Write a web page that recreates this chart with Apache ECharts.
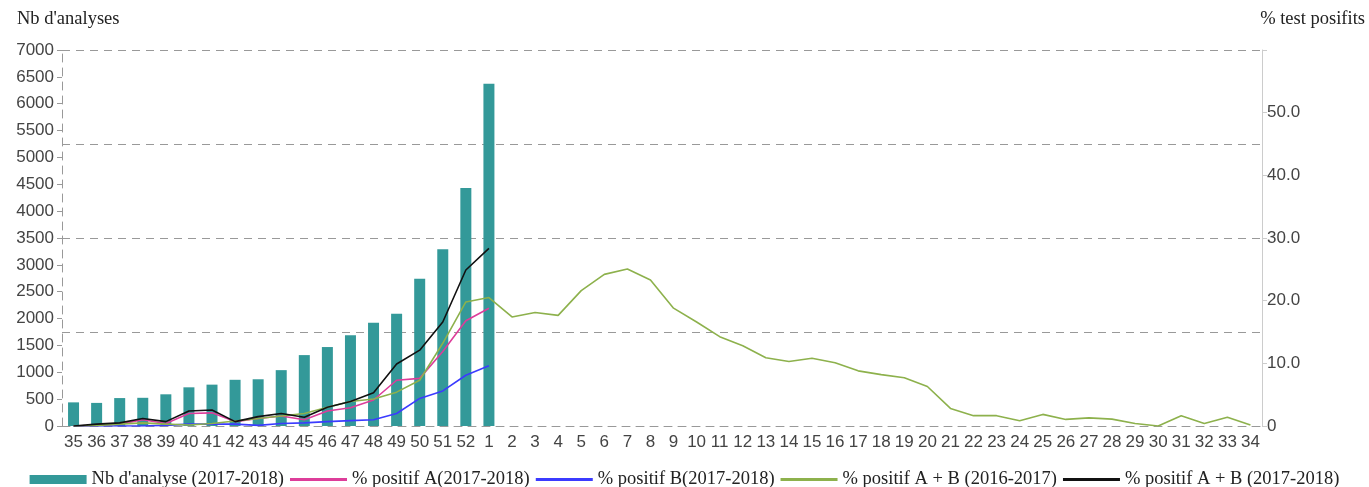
<!DOCTYPE html>
<html><head><meta charset="utf-8">
<script src="https://cdn.jsdelivr.net/npm/echarts@6/dist/echarts.min.js"></script>
<style>html,body{margin:0;padding:0;background:#fff}#c{width:1369px;height:487px}</style>
</head><body><div id="c"></div>
<script>
const weeks = ['35','36','37','38','39','40','41','42','43','44','45','46','47','48','49','50','51','52',
  '1','2','3','4','5','6','7','8','9','10','11','12','13','14','15','16','17','18','19','20','21','22','23','24','25','26','27','28','29','30','31','32','33','34'];
const nbAnalyses = [440,430,520,525,590,720,770,860,870,1040,1320,1470,1690,1920,2090,2740,3290,4430,6370];
const posA = [0,0.1,0.3,1.0,0.4,2.0,2.1,0.7,1.2,1.6,1.0,2.4,2.9,4.15,7.3,7.6,11.9,16.8,18.8];
const posB = [0,0,0,0,0.1,0.3,0.3,0.3,0.1,0.4,0.5,0.7,0.85,1.0,2.0,4.4,5.6,8.1,9.6];
const posAB1617 = [0,0.1,0.3,0.5,0.3,0.15,0.4,0.8,1.2,1.6,2.0,3.0,3.9,4.3,5.4,7.3,13.2,19.8,
  20.5,17.4,18.1,17.65,21.6,24.2,25.05,23.3,18.8,16.6,14.25,12.8,10.9,10.3,10.8,10.1,8.8,8.2,7.7,6.3,2.8,1.65,1.65,0.85,1.85,1.05,1.3,1.1,0.4,0,1.65,0.4,1.4,0.15];
const posAB1718 = [0,0.3,0.5,1.2,0.7,2.4,2.55,0.7,1.5,2.0,1.4,3.0,3.9,5.3,9.9,12.1,16.6,24.9,28.35];
const names = ["Nb d'analyse (2017-2018)", "% positif A(2017-2018)", "% positif B(2017-2018)", "% positif A + B (2016-2017)", "% positif A + B (2017-2018)"];
const lineColors = ['#dd3d9a', '#3b3bff', '#8db14c', '#111111'];

const chart = echarts.init(document.getElementById('c'));
const axisFont = {fontFamily: 'Liberation Sans, Arial, sans-serif', fontSize: 17, color: '#444'};
const lineIcon = 'path://M0,0 L57,0 L57,3 L0,3 Z';
const lineSeries = (name, data, color) => ({
  name, type: 'line', yAxisIndex: 1, data, symbol: 'none', showSymbol: false,
  lineStyle: {color, width: 1.6}, itemStyle: {color}, z: 3, animation: false
});
chart.setOption({
  animation: false,
  title: [
    {text: "Nb d'analyses", left: 12, top: 5, textStyle: {fontFamily: 'Liberation Serif, serif', fontSize: 18.5, fontWeight: 'normal', color: '#222'}},
    {text: '% test posifits', right: -1, top: 5, textStyle: {fontFamily: 'Liberation Serif, serif', fontSize: 18.5, fontWeight: 'normal', color: '#222'}}
  ],
  grid: {left: 62, right: 107, top: 50, bottom: 61, containLabel: false},
  legend: {
    top: 465, left: 'center', itemWidth: 57, itemHeight: 9, itemGap: 6, symbolKeepAspect: true,
    textStyle: {fontFamily: 'Liberation Serif, serif', fontSize: 18.5, color: '#222'},
    data: [
      {name: names[0], icon: 'rect'},
      {name: names[1], icon: lineIcon, itemStyle: {color: lineColors[0]}},
      {name: names[2], icon: lineIcon, itemStyle: {color: lineColors[1]}},
      {name: names[3], icon: lineIcon, itemStyle: {color: lineColors[2]}},
      {name: names[4], icon: lineIcon, itemStyle: {color: lineColors[3]}}
    ]
  },
  xAxis: {
    type: 'category', data: weeks, boundaryGap: true,
    axisLine: {lineStyle: {color: '#999', type: [8, 6]}},
    axisTick: {interval: 0, lineStyle: {color: '#999'}, length: 5},
    axisLabel: Object.assign({interval: 0, margin: 8}, axisFont)
  },
  yAxis: [
    {type: 'value', position: 'left', min: 0, max: 7000, interval: 500,
     axisLine: {show: true, lineStyle: {color: '#999', type: [8, 6]}},
     axisTick: {show: true, length: 5, lineStyle: {color: '#999'}},
     axisLabel: Object.assign({margin: 8, formatter: v => String(v)}, axisFont),
     splitLine: {show: false}},
    {type: 'value', position: 'right', min: 0, max: 60, interval: 10,
     axisLine: {show: true, lineStyle: {color: '#ccc'}},
     axisTick: {show: true, length: 5, lineStyle: {color: '#ccc'}},
     axisLabel: Object.assign({margin: 5, formatter: v => v === 0 ? '0' : (v === 60 ? '' : v.toFixed(1))}, axisFont),
     splitLine: {show: false}},
    {type: 'value', position: 'left', min: 0, max: 7000, interval: 1750,
     axisLine: {show: false}, axisTick: {show: false}, axisLabel: {show: false},
     splitLine: {show: true, lineStyle: {color: '#999', type: [8, 6], width: 1}}}
  ],
  series: [
    {name: names[0], type: 'bar', data: nbAnalyses, barWidth: 11, itemStyle: {color: '#339999'}, z: 2},
    lineSeries(names[1], posA, lineColors[0]),
    lineSeries(names[2], posB, lineColors[1]),
    lineSeries(names[3], posAB1617, lineColors[2]),
    lineSeries(names[4], posAB1718, lineColors[3])
  ]
});
</script></body></html>
